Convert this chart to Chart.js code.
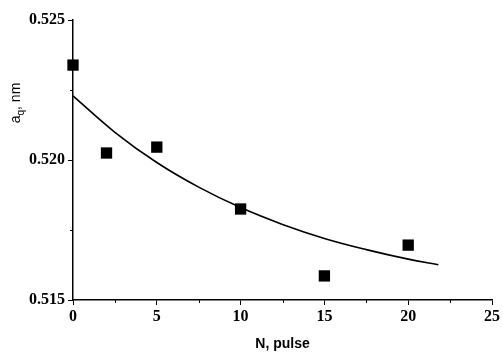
<!DOCTYPE html>
<html>
<head>
<meta charset="utf-8">
<script src="https://cdn.jsdelivr.net/npm/chart.js@4"></script>
<style>
    html, body { margin: 0; padding: 0; background: #fff; }
    #wrap { width: 503px; height: 353px; }
</style>
</head>
<body>
<div id="wrap"><canvas id="latticeChart"></canvas></div>
<script>
// Measured points: lattice parameter vs number of pulses
const pulses = [0, 2, 5, 10, 15, 20];
const aq = [0.52339, 0.52025, 0.52046, 0.51825, 0.51586, 0.51696];

// Fitted curve
const fitX = [0, 2.5, 5, 7.5, 10, 12.5, 15, 17.5, 20, 21.8];
const fitY = [0.52229, 0.52099, 0.51991, 0.51903, 0.51830, 0.51770, 0.51720, 0.51680, 0.51646, 0.51626];

const xTicks = [0, 5, 10, 15, 20, 25];
const yTicks = [0.515, 0.520, 0.525];
const xMinor = [2.5, 7.5, 12.5, 17.5, 22.5];
const yMinor = [0.5175, 0.5225];

const serifBold = { family: "'Liberation Serif', 'Times New Roman', serif", size: 16, weight: 'bold' };

// minor ticks + y title with subscript
const extras = {
    id: 'extras',
    afterDraw(chart) {
        const ctx = chart.ctx;
        const xs = chart.scales.x, ys = chart.scales.y;
        const area = chart.chartArea;
        ctx.save();
        ctx.strokeStyle = '#000';
        ctx.lineWidth = 1;
        ctx.beginPath();
        xMinor.forEach(v => {
            const px = Math.round(xs.getPixelForValue(v)) + 0.5;
            ctx.moveTo(px, area.bottom);
            ctx.lineTo(px, area.bottom + 3);
        });
        yMinor.forEach(v => {
            const py = Math.round(ys.getPixelForValue(v)) + 0.5;
            ctx.moveTo(area.left, py);
            ctx.lineTo(area.left - 3, py);
        });
        ctx.stroke();

        // y axis title: a_q, nm
        ctx.translate(20, 103);
        ctx.rotate(-Math.PI / 2);
        ctx.fillStyle = '#000';
        ctx.textBaseline = 'alphabetic';
        const big = "14px 'Liberation Sans', Arial, sans-serif";
        const small = "10px 'Liberation Sans', Arial, sans-serif";
        ctx.font = big;
        const wA = ctx.measureText('a').width;
        ctx.font = small;
        const wQ = ctx.measureText('q').width;
        ctx.font = big;
        const wRest = ctx.measureText(', nm').width;
        let x0 = -(wA + wQ + wRest) / 2;
        ctx.fillText('a', x0, 0);
        ctx.font = small;
        ctx.fillText('q', x0 + wA, 4);
        ctx.font = big;
        ctx.fillText(', nm', x0 + wA + wQ, 0);
        ctx.restore();
    }
};

new Chart(document.getElementById('latticeChart'), {
    type: 'scatter',
    data: {
        datasets: [
            {
                label: 'fit',
                data: fitX.map((x, i) => ({ x: x, y: fitY[i] })),
                showLine: true,
                borderColor: '#000',
                borderWidth: 1.6,
                pointRadius: 0,
                tension: 0.4,
                fill: false
            },
            {
                label: 'data',
                data: pulses.map((x, i) => ({ x: x, y: aq[i] })),
                pointStyle: 'rect',
                pointRadius: 8,
                backgroundColor: '#000',
                borderColor: '#000',
                borderWidth: 0,
                clip: false
            }
        ]
    },
    options: {
        responsive: true,
        maintainAspectRatio: false,
        animation: false,
        layout: { padding: { top: 20, right: 11, left: 0, bottom: 0 } },
        plugins: {
            legend: { display: false },
            tooltip: { enabled: false }
        },
        scales: {
            x: {
                type: 'linear',
                min: 0,
                max: 25,
                afterFit: s => { s.height = 53; },
                afterBuildTicks: s => { s.ticks = xTicks.map(v => ({ value: v })); },
                grid: { drawOnChartArea: false, drawTicks: true, tickLength: 5, color: '#000', lineWidth: 1 },
                border: { display: true, color: '#000', width: 1.5 },
                ticks: {
                    color: '#000',
                    font: serifBold,
                    padding: 2,
                    maxRotation: 0,
                    callback: v => String(v)
                },
                title: {
                    display: true,
                    text: 'N, pulse',
                    color: '#000',
                    font: { family: "'Liberation Sans', Arial, sans-serif", size: 14, weight: 'bold' },
                    padding: { top: 6, bottom: 0 }
                }
            },
            y: {
                type: 'linear',
                min: 0.515,
                max: 0.525,
                afterFit: s => { s.width = 73; },
                afterBuildTicks: s => { s.ticks = yTicks.map(v => ({ value: v })); },
                grid: { drawOnChartArea: false, drawTicks: true, tickLength: 5, color: '#000', lineWidth: 1 },
                border: { display: true, color: '#000', width: 1.5 },
                ticks: {
                    color: '#000',
                    font: serifBold,
                    padding: 3,
                    callback: v => v.toFixed(3)
                }
            }
        }
    },
    plugins: [extras]
});
</script>
</body>
</html>
